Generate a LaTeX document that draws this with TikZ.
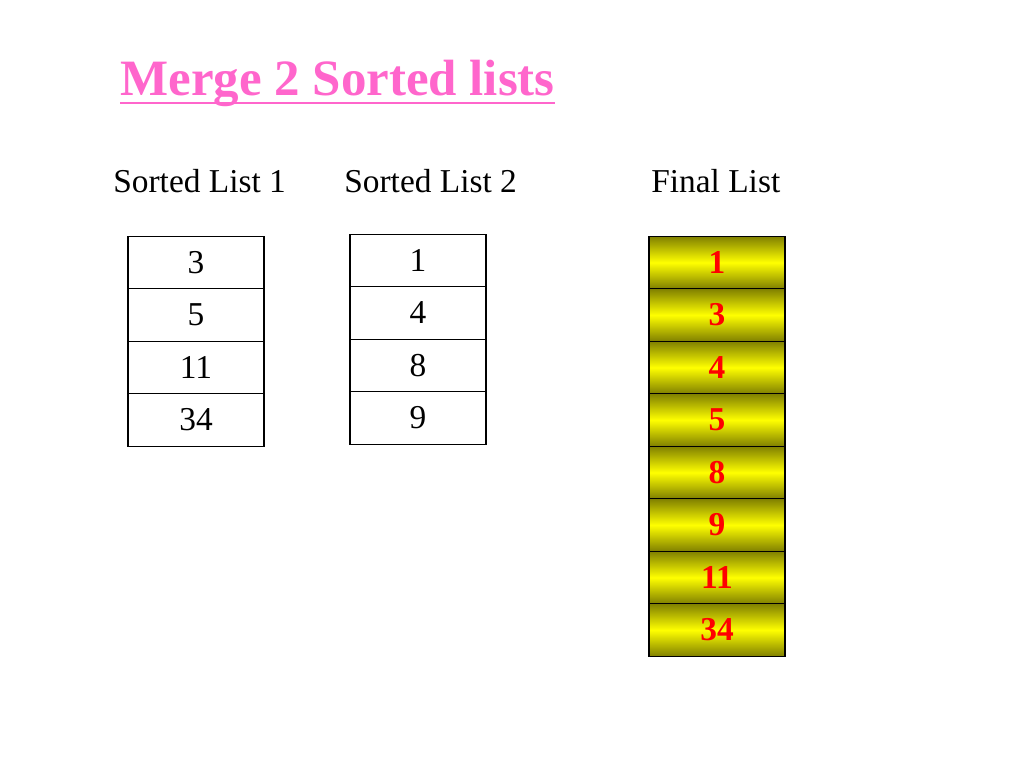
\documentclass[tikz,border=0pt]{standalone}
\usepackage{fontspec}
\setmainfont{Liberation Serif}
\usepackage{xcolor}
\usepackage{tikz}
\usetikzlibrary{positioning}
\definecolor{titlepink}{HTML}{FF66CC}
\definecolor{darkyellow}{HTML}{808000}

\begin{document}
\begin{tikzpicture}[x=0.02cm, y=-0.02cm, every node/.style={font=\fontsize{19}{22}\selectfont},
  cell/.style={draw, line width=0.6pt, minimum width=2.72cm, minimum height=1.05cm, inner sep=0pt},
  finalcell/.style={cell, top color=darkyellow, bottom color=darkyellow, middle color=yellow, text=red, font=\fontsize{19}{22}\selectfont\bfseries},
  heading/.style={anchor=base west, inner sep=0pt}]
\useasboundingbox (0,0) rectangle (1024,768);
\node[heading, text=titlepink, font=\fontsize{29}{34}\selectfont\bfseries] (title) at (120,95) {Merge 2 Sorted lists};
\draw[titlepink, line width=1.4pt] ([yshift=-4.5pt]title.base west) -- ([yshift=-4.5pt]title.base east);
\node[heading] (head1) at (113,192) {Sorted List 1};
\node[heading] (head2) at (344,192) {Sorted List 2};
\node[heading] (head3) at (651,192) {Final List};
% the two input lists
\foreach \v [count=\i] in {3,5,11,34}
  \node[cell] (a\i) at (196,262.5+52.5*\i-52.5) {\v};
\foreach \v [count=\i] in {1,4,8,9}
  \node[cell] (b\i) at (418,260.5+52.5*\i-52.5) {\v};
% merged result
\foreach \v [count=\i] in {1,3,4,5,8,9,11,34}
  \node[finalcell] (c\i) at (717,262.5+52.5*\i-52.5) {\v};
\end{tikzpicture}
\end{document}
